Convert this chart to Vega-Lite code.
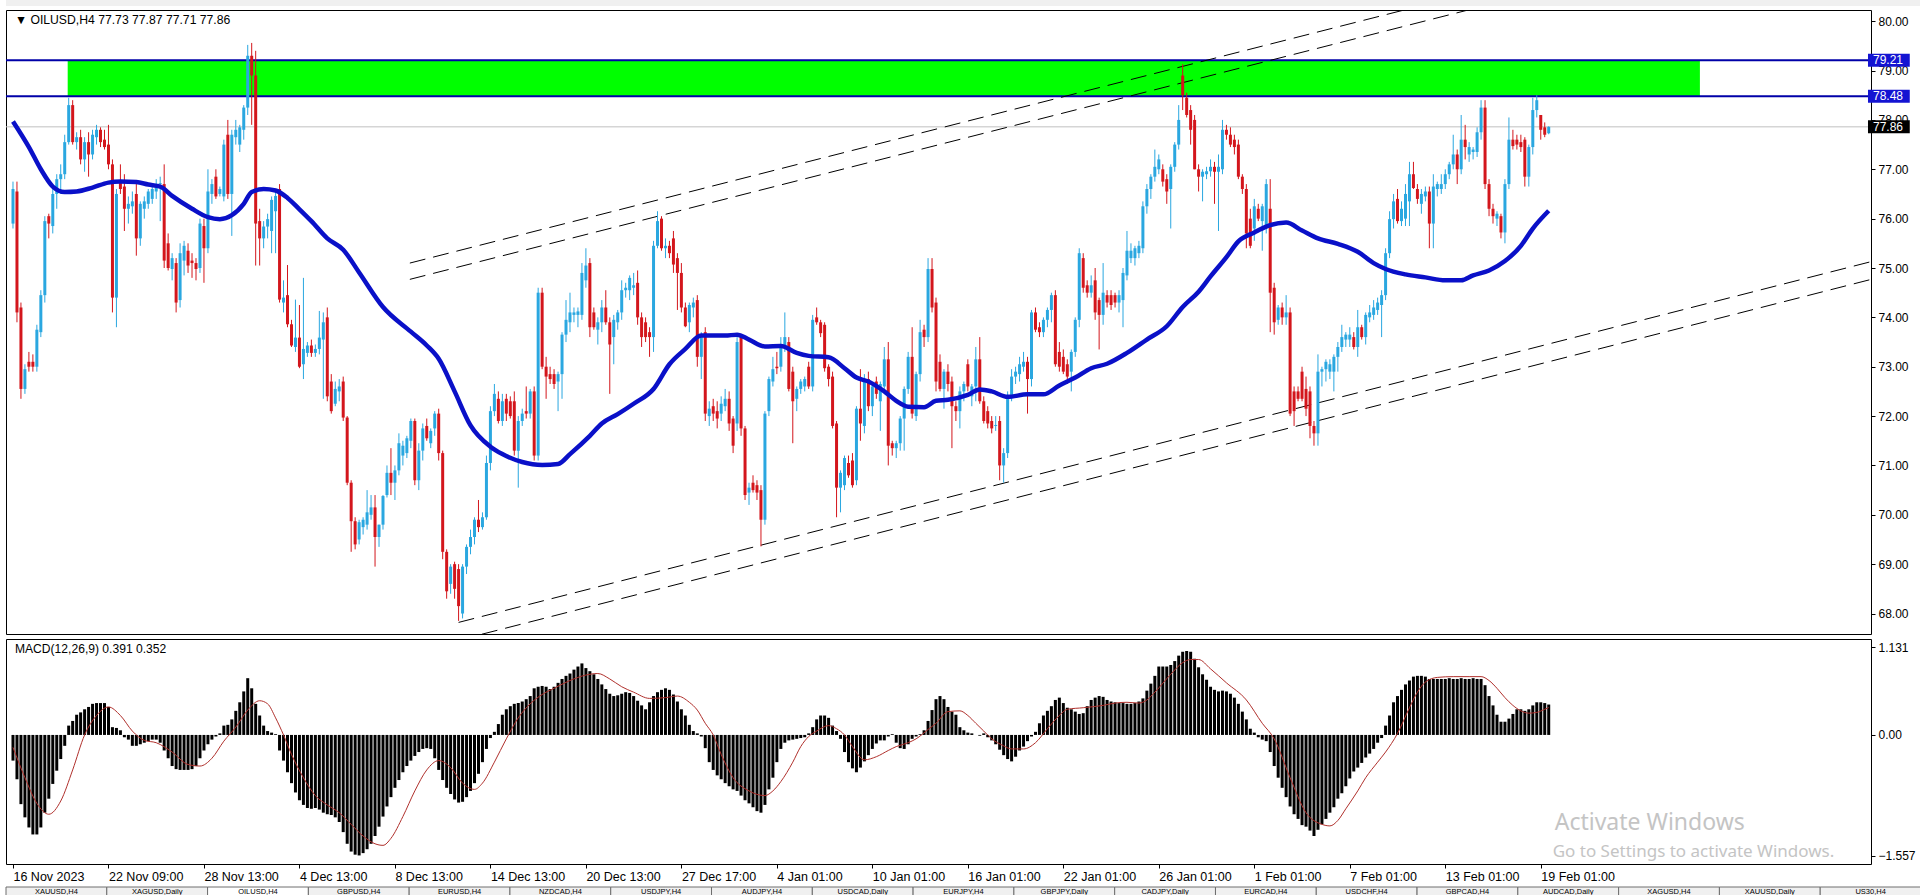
{
"$schema":"https://vega.github.io/schema/vega-lite/v6.json",
"padding":{"left":3,"top":0,"right":0,"bottom":0},
"background":"white",
"spacing":3,
"config":{"view":{"stroke":"#000","strokeWidth":1},"axis":{"labelFont":"Liberation Sans","labelFontSize":12,"labelColor":"#000","tickColor":"#000","domain":false,"grid":false,"title":null,"labelFlush":false,"labelOverlap":false},"text":{"font":"Liberation Sans"}},
"datasets":{
"bars":[
{"i":0,"o":75.9,"h":76.75,"l":75.8,"c":76.6,"m":-0.33},
{"i":1,"o":76.55,"h":76.75,"l":73.9,"c":74.1,"m":-0.57},
{"i":2,"o":74.2,"h":74.3,"l":72.35,"c":72.55,"m":-0.89},
{"i":3,"o":72.55,"h":73.05,"l":72.45,"c":72.95,"m":-1.06},
{"i":4,"o":73.1,"h":73.3,"l":72.9,"c":73.0,"m":-1.19},
{"i":5,"o":73.1,"h":73.25,"l":72.9,"c":73.0,"m":-1.28},
{"i":6,"o":73.0,"h":73.85,"l":72.9,"c":73.75,"m":-1.28},
{"i":7,"o":73.7,"h":74.55,"l":73.6,"c":74.45,"m":-1.19},
{"i":8,"o":74.45,"h":76.05,"l":74.3,"c":75.95,"m":-1.0},
{"i":9,"o":76.05,"h":76.1,"l":75.6,"c":75.9,"m":-0.82},
{"i":10,"o":75.85,"h":76.6,"l":75.7,"c":76.5,"m":-0.63},
{"i":11,"o":76.5,"h":76.9,"l":76.2,"c":76.8,"m":-0.46},
{"i":12,"o":76.8,"h":77.1,"l":76.5,"c":76.9,"m":-0.31},
{"i":13,"o":76.9,"h":77.7,"l":76.8,"c":77.55,"m":-0.14},
{"i":14,"o":77.55,"h":78.45,"l":77.5,"c":78.3,"m":0.12},
{"i":15,"o":78.3,"h":78.4,"l":77.5,"c":77.55,"m":0.18},
{"i":16,"o":77.55,"h":77.75,"l":77.4,"c":77.65,"m":0.26},
{"i":17,"o":77.65,"h":77.8,"l":77.1,"c":77.2,"m":0.29},
{"i":18,"o":77.2,"h":77.65,"l":76.95,"c":77.55,"m":0.33},
{"i":19,"o":77.55,"h":77.75,"l":76.85,"c":77.3,"m":0.36},
{"i":20,"o":77.3,"h":77.8,"l":77.2,"c":77.7,"m":0.4},
{"i":21,"o":77.65,"h":77.9,"l":77.5,"c":77.8,"m":0.41},
{"i":22,"o":77.8,"h":77.85,"l":77.45,"c":77.55,"m":0.41},
{"i":23,"o":77.6,"h":77.8,"l":77.4,"c":77.45,"m":0.41},
{"i":24,"o":77.5,"h":77.9,"l":77.0,"c":77.1,"m":0.36},
{"i":25,"o":77.1,"h":77.2,"l":74.1,"c":74.4,"m":0.1},
{"i":26,"o":74.4,"h":76.6,"l":73.8,"c":76.5,"m":0.09},
{"i":27,"o":76.75,"h":77.1,"l":76.5,"c":76.6,"m":0.06},
{"i":28,"o":76.65,"h":76.9,"l":75.75,"c":76.2,"m":-0.03},
{"i":29,"o":76.2,"h":76.45,"l":75.9,"c":76.3,"m":-0.06},
{"i":30,"o":76.25,"h":76.55,"l":76.1,"c":76.35,"m":-0.14},
{"i":31,"o":76.5,"h":76.75,"l":75.25,"c":75.6,"m":-0.14},
{"i":32,"o":75.6,"h":76.35,"l":75.45,"c":76.3,"m":-0.12},
{"i":33,"o":76.2,"h":76.45,"l":76.0,"c":76.35,"m":-0.1},
{"i":34,"o":76.3,"h":76.6,"l":76.2,"c":76.55,"m":-0.08},
{"i":35,"o":76.4,"h":76.7,"l":76.3,"c":76.6,"m":-0.06},
{"i":36,"o":76.55,"h":76.8,"l":76.4,"c":76.7,"m":-0.06},
{"i":37,"o":76.7,"h":76.85,"l":75.95,"c":76.72,"m":-0.1},
{"i":38,"o":76.7,"h":77.1,"l":75.0,"c":75.15,"m":-0.2},
{"i":39,"o":75.5,"h":75.7,"l":74.95,"c":75.0,"m":-0.3},
{"i":40,"o":74.98,"h":75.3,"l":74.75,"c":75.2,"m":-0.4},
{"i":41,"o":75.1,"h":75.2,"l":74.1,"c":74.3,"m":-0.44},
{"i":42,"o":74.35,"h":75.5,"l":74.2,"c":75.3,"m":-0.45},
{"i":43,"o":75.15,"h":75.55,"l":74.85,"c":75.45,"m":-0.45},
{"i":44,"o":75.35,"h":75.5,"l":74.9,"c":75.05,"m":-0.45},
{"i":45,"o":75.15,"h":75.3,"l":74.8,"c":75.1,"m":-0.44},
{"i":46,"o":75.1,"h":75.2,"l":74.75,"c":74.98,"m":-0.4},
{"i":47,"o":75.0,"h":76.0,"l":74.9,"c":75.9,"m":-0.3},
{"i":48,"o":75.85,"h":76.0,"l":74.7,"c":75.4,"m":-0.2},
{"i":49,"o":75.4,"h":77.0,"l":75.3,"c":76.55,"m":-0.12},
{"i":50,"o":76.5,"h":76.8,"l":76.3,"c":76.7,"m":-0.06},
{"i":51,"o":76.85,"h":77.0,"l":76.4,"c":76.45,"m":-0.02},
{"i":52,"o":76.5,"h":76.65,"l":76.45,"c":76.6,"m":0.02},
{"i":53,"o":76.45,"h":77.6,"l":76.35,"c":77.5,"m":0.12},
{"i":54,"o":77.7,"h":78.0,"l":76.4,"c":76.5,"m":0.13},
{"i":55,"o":76.5,"h":77.8,"l":75.65,"c":77.7,"m":0.2},
{"i":56,"o":77.65,"h":78.0,"l":77.5,"c":77.8,"m":0.31},
{"i":57,"o":77.5,"h":77.9,"l":77.35,"c":77.85,"m":0.42},
{"i":58,"o":77.8,"h":78.3,"l":77.6,"c":78.25,"m":0.56},
{"i":59,"o":78.25,"h":79.52,"l":78.1,"c":79.3,"m":0.73},
{"i":60,"o":79.3,"h":79.56,"l":77.9,"c":78.9,"m":0.6},
{"i":61,"o":78.9,"h":79.4,"l":75.05,"c":75.9,"m":0.4},
{"i":62,"o":75.95,"h":76.2,"l":75.05,"c":75.6,"m":0.25},
{"i":63,"o":75.6,"h":75.95,"l":75.4,"c":75.84,"m":0.12},
{"i":64,"o":75.84,"h":76.1,"l":75.6,"c":75.99,"m":0.05},
{"i":65,"o":75.75,"h":76.45,"l":75.3,"c":76.38,"m":0.03},
{"i":66,"o":76.15,"h":76.55,"l":75.3,"c":76.46,"m":0.01},
{"i":67,"o":76.6,"h":76.7,"l":74.3,"c":74.36,"m":-0.2},
{"i":68,"o":74.3,"h":74.75,"l":74.1,"c":74.4,"m":-0.33},
{"i":69,"o":74.45,"h":75.06,"l":73.8,"c":73.86,"m":-0.48},
{"i":70,"o":73.86,"h":73.95,"l":73.4,"c":73.43,"m":-0.62},
{"i":71,"o":73.4,"h":74.36,"l":73.3,"c":73.59,"m":-0.74},
{"i":72,"o":73.59,"h":74.25,"l":72.97,"c":73.0,"m":-0.84},
{"i":73,"o":73.05,"h":74.8,"l":72.75,"c":73.36,"m":-0.9},
{"i":74,"o":73.28,"h":73.5,"l":73.2,"c":73.43,"m":-0.94},
{"i":75,"o":73.43,"h":73.55,"l":73.2,"c":73.28,"m":-0.95},
{"i":76,"o":73.28,"h":73.45,"l":73.2,"c":73.36,"m":-0.94},
{"i":77,"o":73.36,"h":74.13,"l":73.25,"c":73.59,"m":-0.96},
{"i":78,"o":73.55,"h":74.1,"l":72.35,"c":73.9,"m":-1.0},
{"i":79,"o":74.0,"h":74.2,"l":72.3,"c":72.4,"m":-1.02},
{"i":80,"o":72.7,"h":72.85,"l":72.05,"c":72.1,"m":-1.03},
{"i":81,"o":72.25,"h":72.7,"l":72.2,"c":72.55,"m":-1.06},
{"i":82,"o":72.5,"h":72.75,"l":72.3,"c":72.6,"m":-1.12},
{"i":83,"o":72.7,"h":72.8,"l":71.9,"c":71.97,"m":-1.25},
{"i":84,"o":71.97,"h":72.0,"l":70.6,"c":70.65,"m":-1.4},
{"i":85,"o":70.65,"h":70.7,"l":69.25,"c":69.87,"m":-1.5},
{"i":86,"o":69.87,"h":69.95,"l":69.3,"c":69.4,"m":-1.54},
{"i":87,"o":69.5,"h":69.9,"l":69.4,"c":69.85,"m":-1.55},
{"i":88,"o":69.75,"h":69.95,"l":69.6,"c":69.9,"m":-1.52},
{"i":89,"o":69.8,"h":70.5,"l":69.7,"c":70.05,"m":-1.47},
{"i":90,"o":70.0,"h":70.4,"l":69.9,"c":70.15,"m":-1.4},
{"i":91,"o":70.15,"h":70.4,"l":68.95,"c":69.55,"m":-1.3},
{"i":92,"o":69.55,"h":69.8,"l":69.35,"c":69.8,"m":-1.18},
{"i":93,"o":69.8,"h":70.4,"l":69.7,"c":70.38,"m":-1.05},
{"i":94,"o":70.4,"h":71.0,"l":70.35,"c":70.85,"m":-0.92},
{"i":95,"o":70.85,"h":71.35,"l":70.4,"c":70.65,"m":-0.8},
{"i":96,"o":70.65,"h":71.0,"l":70.3,"c":70.9,"m":-0.68},
{"i":97,"o":70.9,"h":71.65,"l":70.8,"c":71.45,"m":-0.58},
{"i":98,"o":71.2,"h":71.5,"l":71.0,"c":71.4,"m":-0.48},
{"i":99,"o":71.25,"h":71.6,"l":71.15,"c":71.55,"m":-0.4},
{"i":100,"o":71.5,"h":71.95,"l":71.35,"c":71.9,"m":-0.33},
{"i":101,"o":71.9,"h":71.95,"l":70.6,"c":70.7,"m":-0.27},
{"i":102,"o":70.7,"h":71.45,"l":70.5,"c":71.3,"m":-0.22},
{"i":103,"o":71.3,"h":71.85,"l":71.1,"c":71.75,"m":-0.18},
{"i":104,"o":71.8,"h":71.95,"l":71.5,"c":71.55,"m":-0.17},
{"i":105,"o":71.45,"h":71.75,"l":71.35,"c":71.7,"m":-0.18},
{"i":106,"o":71.75,"h":72.1,"l":71.6,"c":72.05,"m":-0.3},
{"i":107,"o":72.05,"h":72.15,"l":71.1,"c":71.25,"m":-0.45},
{"i":108,"o":71.25,"h":71.3,"l":69.1,"c":69.25,"m":-0.58},
{"i":109,"o":69.25,"h":69.3,"l":68.3,"c":68.45,"m":-0.68},
{"i":110,"o":68.6,"h":69.0,"l":68.4,"c":68.95,"m":-0.76},
{"i":111,"o":69.0,"h":69.05,"l":68.3,"c":68.5,"m":-0.83},
{"i":112,"o":68.9,"h":69.0,"l":67.85,"c":68.15,"m":-0.87},
{"i":113,"o":68.0,"h":69.0,"l":67.9,"c":68.95,"m":-0.86},
{"i":114,"o":68.95,"h":69.4,"l":68.8,"c":69.35,"m":-0.8},
{"i":115,"o":69.35,"h":69.7,"l":69.2,"c":69.55,"m":-0.72},
{"i":116,"o":69.55,"h":69.95,"l":69.4,"c":69.9,"m":-0.62},
{"i":117,"o":69.9,"h":70.3,"l":69.65,"c":69.75,"m":-0.5},
{"i":118,"o":69.75,"h":70.05,"l":69.7,"c":69.95,"m":-0.35},
{"i":119,"o":69.95,"h":71.2,"l":69.9,"c":71.05,"m":-0.18},
{"i":120,"o":71.05,"h":72.2,"l":70.9,"c":72.1,"m":-0.04},
{"i":121,"o":72.1,"h":72.65,"l":72.0,"c":72.45,"m":0.04},
{"i":122,"o":72.35,"h":72.5,"l":71.85,"c":71.9,"m":0.14},
{"i":123,"o":71.9,"h":72.45,"l":71.8,"c":72.3,"m":0.26},
{"i":124,"o":72.35,"h":72.45,"l":71.9,"c":72.05,"m":0.33},
{"i":125,"o":72.3,"h":72.4,"l":71.95,"c":72.0,"m":0.37},
{"i":126,"o":72.3,"h":72.5,"l":71.2,"c":71.3,"m":0.4},
{"i":127,"o":71.3,"h":72.0,"l":70.55,"c":71.9,"m":0.41},
{"i":128,"o":71.9,"h":72.15,"l":71.8,"c":72.05,"m":0.43},
{"i":129,"o":72.1,"h":72.6,"l":71.95,"c":72.05,"m":0.46},
{"i":130,"o":72.05,"h":72.55,"l":71.95,"c":72.5,"m":0.5},
{"i":131,"o":72.5,"h":72.6,"l":71.1,"c":71.2,"m":0.6},
{"i":132,"o":71.2,"h":74.6,"l":71.1,"c":74.5,"m":0.62},
{"i":133,"o":74.5,"h":74.6,"l":72.95,"c":73.0,"m":0.63},
{"i":134,"o":73.0,"h":73.2,"l":72.35,"c":72.8,"m":0.62},
{"i":135,"o":72.85,"h":73.0,"l":72.65,"c":72.75,"m":0.59},
{"i":136,"o":72.85,"h":72.95,"l":72.55,"c":72.65,"m":0.62},
{"i":137,"o":72.7,"h":72.9,"l":72.1,"c":72.85,"m":0.67},
{"i":138,"o":72.85,"h":73.7,"l":72.35,"c":73.65,"m":0.72},
{"i":139,"o":73.65,"h":74.35,"l":73.5,"c":73.95,"m":0.76},
{"i":140,"o":73.9,"h":74.5,"l":73.7,"c":74.1,"m":0.79},
{"i":141,"o":74.05,"h":74.2,"l":73.9,"c":74.1,"m":0.84},
{"i":142,"o":74.05,"h":74.2,"l":73.8,"c":74.12,"m":0.88},
{"i":143,"o":74.05,"h":75.1,"l":73.95,"c":74.9,"m":0.92},
{"i":144,"o":74.75,"h":75.4,"l":74.6,"c":75.05,"m":0.86},
{"i":145,"o":75.1,"h":75.2,"l":73.6,"c":73.8,"m":0.82},
{"i":146,"o":74.1,"h":74.2,"l":73.75,"c":73.8,"m":0.78},
{"i":147,"o":73.75,"h":74.0,"l":73.45,"c":73.9,"m":0.72},
{"i":148,"o":73.9,"h":74.35,"l":73.7,"c":74.2,"m":0.65},
{"i":149,"o":74.2,"h":74.55,"l":73.85,"c":73.9,"m":0.59},
{"i":150,"o":73.9,"h":74.0,"l":72.45,"c":73.45,"m":0.53},
{"i":151,"o":73.6,"h":74.05,"l":73.05,"c":73.95,"m":0.5},
{"i":152,"o":73.9,"h":74.15,"l":73.75,"c":74.1,"m":0.51},
{"i":153,"o":74.1,"h":74.75,"l":73.95,"c":74.55,"m":0.53},
{"i":154,"o":74.55,"h":74.7,"l":74.4,"c":74.6,"m":0.55},
{"i":155,"o":74.55,"h":74.85,"l":74.35,"c":74.8,"m":0.54},
{"i":156,"o":74.6,"h":74.9,"l":74.45,"c":74.65,"m":0.5},
{"i":157,"o":74.7,"h":74.95,"l":73.85,"c":74.0,"m":0.44},
{"i":158,"o":74.0,"h":74.1,"l":73.4,"c":73.6,"m":0.38},
{"i":159,"o":73.9,"h":74.0,"l":73.5,"c":73.6,"m":0.33},
{"i":160,"o":73.7,"h":73.8,"l":73.2,"c":73.6,"m":0.42},
{"i":161,"o":73.6,"h":75.55,"l":73.3,"c":75.45,"m":0.5},
{"i":162,"o":75.45,"h":76.15,"l":75.4,"c":75.95,"m":0.55},
{"i":163,"o":76.0,"h":76.05,"l":75.35,"c":75.4,"m":0.58},
{"i":164,"o":75.4,"h":75.6,"l":75.2,"c":75.45,"m":0.6},
{"i":165,"o":75.45,"h":75.55,"l":75.2,"c":75.3,"m":0.58},
{"i":166,"o":75.6,"h":75.75,"l":74.9,"c":75.07,"m":0.52},
{"i":167,"o":75.2,"h":75.3,"l":74.15,"c":74.9,"m":0.43},
{"i":168,"o":74.9,"h":75.1,"l":74.1,"c":74.2,"m":0.33},
{"i":169,"o":74.2,"h":74.3,"l":73.8,"c":73.82,"m":0.25},
{"i":170,"o":73.9,"h":74.3,"l":73.7,"c":74.25,"m":0.13},
{"i":171,"o":74.2,"h":74.4,"l":74.0,"c":74.3,"m":0.05},
{"i":172,"o":74.35,"h":74.45,"l":73.0,"c":73.2,"m":0.02},
{"i":173,"o":73.2,"h":73.7,"l":72.75,"c":73.65,"m":-0.02},
{"i":174,"o":73.7,"h":73.8,"l":71.9,"c":72.05,"m":-0.17},
{"i":175,"o":72.0,"h":72.3,"l":71.8,"c":72.15,"m":-0.35},
{"i":176,"o":72.2,"h":72.35,"l":71.9,"c":72.05,"m":-0.45},
{"i":177,"o":72.1,"h":72.3,"l":71.75,"c":71.95,"m":-0.52},
{"i":178,"o":72.05,"h":72.4,"l":71.9,"c":72.25,"m":-0.57},
{"i":179,"o":72.2,"h":72.55,"l":72.1,"c":72.35,"m":-0.62},
{"i":180,"o":72.35,"h":72.5,"l":71.7,"c":71.85,"m":-0.66},
{"i":181,"o":71.95,"h":72.0,"l":71.25,"c":71.4,"m":-0.7},
{"i":182,"o":71.85,"h":73.6,"l":71.7,"c":73.5,"m":-0.72},
{"i":183,"o":73.6,"h":73.65,"l":71.6,"c":71.75,"m":-0.78},
{"i":184,"o":71.75,"h":71.8,"l":70.3,"c":70.4,"m":-0.84},
{"i":185,"o":70.45,"h":70.65,"l":70.2,"c":70.55,"m":-0.88},
{"i":186,"o":70.65,"h":70.8,"l":70.45,"c":70.5,"m":-0.93},
{"i":187,"o":70.6,"h":70.7,"l":70.3,"c":70.45,"m":-0.98},
{"i":188,"o":70.5,"h":70.6,"l":69.36,"c":69.9,"m":-1.0},
{"i":189,"o":69.9,"h":72.1,"l":69.8,"c":72.05,"m":-0.9},
{"i":190,"o":72.1,"h":72.8,"l":72.0,"c":72.75,"m":-0.7},
{"i":191,"o":72.7,"h":73.2,"l":72.6,"c":72.95,"m":-0.55},
{"i":192,"o":73.0,"h":73.3,"l":72.85,"c":72.97,"m":-0.35},
{"i":193,"o":73.0,"h":73.6,"l":72.9,"c":73.4,"m":-0.18},
{"i":194,"o":73.4,"h":74.1,"l":73.3,"c":73.6,"m":-0.1},
{"i":195,"o":73.5,"h":73.6,"l":72.5,"c":72.55,"m":-0.07},
{"i":196,"o":72.9,"h":73.0,"l":71.45,"c":72.3,"m":-0.06},
{"i":197,"o":72.35,"h":72.6,"l":72.1,"c":72.55,"m":-0.05},
{"i":198,"o":72.55,"h":72.75,"l":72.45,"c":72.7,"m":-0.04},
{"i":199,"o":72.6,"h":72.8,"l":72.5,"c":72.75,"m":-0.03},
{"i":200,"o":73.0,"h":73.1,"l":72.55,"c":72.6,"m":0.02},
{"i":201,"o":72.6,"h":74.05,"l":72.5,"c":73.95,"m":0.1},
{"i":202,"o":74.0,"h":74.2,"l":73.85,"c":73.9,"m":0.2},
{"i":203,"o":73.9,"h":73.95,"l":73.6,"c":73.68,"m":0.25},
{"i":204,"o":73.85,"h":73.9,"l":72.9,"c":72.97,"m":0.25},
{"i":205,"o":73.0,"h":73.05,"l":72.6,"c":72.75,"m":0.22},
{"i":206,"o":72.8,"h":72.9,"l":71.75,"c":71.8,"m":0.12},
{"i":207,"o":71.85,"h":71.9,"l":69.95,"c":70.55,"m":0.05},
{"i":208,"o":70.55,"h":70.9,"l":70.05,"c":70.85,"m":-0.05},
{"i":209,"o":70.6,"h":71.2,"l":70.5,"c":71.15,"m":-0.22},
{"i":210,"o":71.05,"h":71.2,"l":70.75,"c":70.8,"m":-0.35},
{"i":211,"o":71.1,"h":71.25,"l":70.55,"c":70.6,"m":-0.43},
{"i":212,"o":70.7,"h":72.2,"l":70.6,"c":72.15,"m":-0.48},
{"i":213,"o":72.15,"h":72.95,"l":71.5,"c":71.85,"m":-0.42},
{"i":214,"o":71.8,"h":72.85,"l":71.65,"c":72.75,"m":-0.34},
{"i":215,"o":72.75,"h":72.9,"l":72.1,"c":72.2,"m":-0.26},
{"i":216,"o":72.2,"h":72.65,"l":72.0,"c":72.6,"m":-0.18},
{"i":217,"o":72.7,"h":72.8,"l":72.35,"c":72.45,"m":-0.11},
{"i":218,"o":72.3,"h":72.7,"l":71.7,"c":72.65,"m":-0.07},
{"i":219,"o":72.6,"h":73.4,"l":72.5,"c":73.15,"m":-0.07},
{"i":220,"o":73.15,"h":73.5,"l":71.0,"c":71.4,"m":-0.02},
{"i":221,"o":71.45,"h":71.5,"l":71.2,"c":71.35,"m":0.01},
{"i":222,"o":71.35,"h":71.5,"l":71.15,"c":71.45,"m":-0.1},
{"i":223,"o":71.45,"h":72.0,"l":71.3,"c":71.95,"m":-0.17},
{"i":224,"o":71.95,"h":72.6,"l":71.3,"c":72.55,"m":-0.18},
{"i":225,"o":72.55,"h":73.3,"l":72.45,"c":73.2,"m":-0.12},
{"i":226,"o":73.2,"h":73.8,"l":71.95,"c":72.05,"m":-0.05},
{"i":227,"o":72.0,"h":72.9,"l":71.9,"c":72.85,"m":-0.02},
{"i":228,"o":72.85,"h":73.95,"l":72.7,"c":73.7,"m":0.01},
{"i":229,"o":73.75,"h":73.85,"l":73.4,"c":73.6,"m":0.06},
{"i":230,"o":73.6,"h":75.2,"l":73.5,"c":74.98,"m":0.18},
{"i":231,"o":74.98,"h":75.2,"l":74.1,"c":74.2,"m":0.32},
{"i":232,"o":74.3,"h":74.4,"l":72.5,"c":72.7,"m":0.46},
{"i":233,"o":73.1,"h":73.25,"l":72.5,"c":72.55,"m":0.5},
{"i":234,"o":72.55,"h":72.95,"l":72.15,"c":72.9,"m":0.46},
{"i":235,"o":72.9,"h":73.05,"l":72.5,"c":72.65,"m":0.36},
{"i":236,"o":72.7,"h":72.8,"l":71.35,"c":72.2,"m":0.3},
{"i":237,"o":72.2,"h":72.3,"l":71.9,"c":72.1,"m":0.26},
{"i":238,"o":72.1,"h":72.6,"l":71.75,"c":72.5,"m":0.1},
{"i":239,"o":72.5,"h":72.7,"l":72.3,"c":72.65,"m":0.06},
{"i":240,"o":73.05,"h":73.15,"l":72.5,"c":72.6,"m":0.03},
{"i":241,"o":72.4,"h":72.65,"l":72.2,"c":72.6,"m":0.02},
{"i":242,"o":72.6,"h":73.4,"l":72.3,"c":73.15,"m":0.0},
{"i":243,"o":73.15,"h":73.6,"l":72.25,"c":72.3,"m":-0.01},
{"i":244,"o":72.3,"h":72.4,"l":71.85,"c":71.9,"m":0.02},
{"i":245,"o":72.1,"h":72.2,"l":71.75,"c":71.85,"m":-0.03},
{"i":246,"o":71.9,"h":72.0,"l":71.65,"c":71.75,"m":-0.07},
{"i":247,"o":71.8,"h":72.0,"l":71.7,"c":71.82,"m":-0.12},
{"i":248,"o":71.9,"h":72.0,"l":70.7,"c":71.0,"m":-0.19},
{"i":249,"o":71.0,"h":71.35,"l":70.65,"c":71.25,"m":-0.26},
{"i":250,"o":71.25,"h":72.5,"l":71.15,"c":72.4,"m":-0.31},
{"i":251,"o":72.4,"h":72.95,"l":72.3,"c":72.8,"m":-0.34},
{"i":252,"o":72.8,"h":73.0,"l":72.65,"c":72.9,"m":-0.28},
{"i":253,"o":72.85,"h":73.2,"l":72.7,"c":73.05,"m":-0.2},
{"i":254,"o":73.0,"h":73.3,"l":72.9,"c":73.1,"m":-0.15},
{"i":255,"o":73.1,"h":73.2,"l":72.05,"c":72.75,"m":-0.08},
{"i":256,"o":72.75,"h":74.15,"l":72.6,"c":74.1,"m":-0.02},
{"i":257,"o":74.1,"h":74.2,"l":73.7,"c":73.75,"m":0.04},
{"i":258,"o":73.8,"h":73.9,"l":73.6,"c":73.7,"m":0.15},
{"i":259,"o":73.7,"h":74.0,"l":73.6,"c":73.95,"m":0.25},
{"i":260,"o":73.95,"h":74.2,"l":73.8,"c":74.15,"m":0.31},
{"i":261,"o":74.15,"h":74.5,"l":73.9,"c":74.45,"m":0.37},
{"i":262,"o":74.45,"h":74.55,"l":73.0,"c":73.05,"m":0.45},
{"i":263,"o":73.3,"h":73.5,"l":72.9,"c":73.0,"m":0.48},
{"i":264,"o":73.2,"h":73.35,"l":72.85,"c":72.9,"m":0.41},
{"i":265,"o":73.05,"h":73.15,"l":72.65,"c":72.8,"m":0.35},
{"i":266,"o":72.9,"h":73.35,"l":72.5,"c":73.3,"m":0.33},
{"i":267,"o":73.3,"h":74.0,"l":73.2,"c":73.95,"m":0.3},
{"i":268,"o":73.95,"h":75.4,"l":73.8,"c":75.3,"m":0.27},
{"i":269,"o":75.2,"h":75.3,"l":74.5,"c":74.6,"m":0.28},
{"i":270,"o":74.65,"h":74.75,"l":74.4,"c":74.5,"m":0.37},
{"i":271,"o":74.5,"h":74.85,"l":74.4,"c":74.65,"m":0.45},
{"i":272,"o":74.75,"h":75.0,"l":73.95,"c":74.1,"m":0.48},
{"i":273,"o":74.35,"h":74.4,"l":73.35,"c":74.05,"m":0.5},
{"i":274,"o":74.05,"h":75.1,"l":73.85,"c":74.5,"m":0.49},
{"i":275,"o":74.45,"h":74.55,"l":74.2,"c":74.3,"m":0.45},
{"i":276,"o":74.45,"h":74.55,"l":74.15,"c":74.25,"m":0.43},
{"i":277,"o":74.45,"h":74.5,"l":74.2,"c":74.3,"m":0.42},
{"i":278,"o":74.3,"h":74.55,"l":74.1,"c":74.45,"m":0.41},
{"i":279,"o":74.35,"h":75.0,"l":73.8,"c":74.9,"m":0.41},
{"i":280,"o":74.85,"h":75.75,"l":74.75,"c":75.35,"m":0.4},
{"i":281,"o":75.2,"h":75.5,"l":75.1,"c":75.35,"m":0.4},
{"i":282,"o":75.2,"h":75.45,"l":75.05,"c":75.4,"m":0.41},
{"i":283,"o":75.3,"h":75.55,"l":75.2,"c":75.45,"m":0.43},
{"i":284,"o":75.4,"h":76.35,"l":75.3,"c":76.25,"m":0.47},
{"i":285,"o":76.25,"h":76.7,"l":76.1,"c":76.6,"m":0.57},
{"i":286,"o":76.6,"h":76.9,"l":76.4,"c":76.85,"m":0.66},
{"i":287,"o":76.85,"h":77.4,"l":76.75,"c":77.05,"m":0.76},
{"i":288,"o":77.0,"h":77.3,"l":76.9,"c":77.2,"m":0.88},
{"i":289,"o":77.0,"h":77.1,"l":76.65,"c":76.75,"m":0.88},
{"i":290,"o":76.8,"h":76.9,"l":76.3,"c":76.55,"m":0.88},
{"i":291,"o":76.6,"h":77.1,"l":75.8,"c":77.05,"m":0.9},
{"i":292,"o":77.05,"h":77.55,"l":76.95,"c":77.5,"m":0.95},
{"i":293,"o":77.5,"h":78.3,"l":77.4,"c":78.0,"m":1.02},
{"i":294,"o":78.9,"h":79.13,"l":78.2,"c":78.5,"m":1.07},
{"i":295,"o":78.45,"h":78.55,"l":78.05,"c":78.1,"m":1.08},
{"i":296,"o":78.2,"h":78.3,"l":77.5,"c":77.8,"m":1.07},
{"i":297,"o":78.0,"h":78.1,"l":77.0,"c":77.0,"m":0.98},
{"i":298,"o":77.0,"h":77.1,"l":76.55,"c":76.85,"m":0.87},
{"i":299,"o":76.85,"h":77.0,"l":76.35,"c":76.95,"m":0.78},
{"i":300,"o":76.9,"h":77.05,"l":76.8,"c":76.96,"m":0.71},
{"i":301,"o":76.96,"h":77.2,"l":76.85,"c":77.05,"m":0.62},
{"i":302,"o":77.05,"h":77.15,"l":76.3,"c":76.95,"m":0.58},
{"i":303,"o":76.95,"h":77.3,"l":75.75,"c":77.05,"m":0.56},
{"i":304,"o":77.0,"h":78.0,"l":76.9,"c":77.8,"m":0.57},
{"i":305,"o":77.8,"h":77.9,"l":77.6,"c":77.7,"m":0.56},
{"i":306,"o":77.7,"h":77.85,"l":77.45,"c":77.5,"m":0.53},
{"i":307,"o":77.6,"h":77.7,"l":77.3,"c":77.45,"m":0.48},
{"i":308,"o":77.5,"h":77.6,"l":76.8,"c":76.85,"m":0.4},
{"i":309,"o":76.85,"h":76.9,"l":76.5,"c":76.6,"m":0.3},
{"i":310,"o":76.6,"h":76.7,"l":75.4,"c":75.7,"m":0.2},
{"i":311,"o":76.0,"h":76.2,"l":75.4,"c":75.45,"m":0.08},
{"i":312,"o":75.8,"h":76.4,"l":75.55,"c":76.25,"m":0.03},
{"i":313,"o":76.2,"h":76.3,"l":75.95,"c":76.0,"m":-0.03},
{"i":314,"o":75.95,"h":76.3,"l":75.35,"c":76.25,"m":-0.06},
{"i":315,"o":75.85,"h":76.8,"l":75.7,"c":76.7,"m":-0.08},
{"i":316,"o":76.2,"h":76.8,"l":73.7,"c":74.5,"m":-0.22},
{"i":317,"o":74.6,"h":74.7,"l":73.65,"c":73.9,"m":-0.4},
{"i":318,"o":73.95,"h":74.25,"l":73.85,"c":74.2,"m":-0.55},
{"i":319,"o":74.2,"h":74.3,"l":73.85,"c":74.0,"m":-0.68},
{"i":320,"o":74.0,"h":74.45,"l":73.85,"c":74.1,"m":-0.8},
{"i":321,"o":74.1,"h":74.2,"l":72.0,"c":72.05,"m":-0.92},
{"i":322,"o":72.5,"h":72.6,"l":71.8,"c":72.1,"m":-1.02},
{"i":323,"o":72.5,"h":72.6,"l":72.3,"c":72.35,"m":-1.08},
{"i":324,"o":72.9,"h":73.0,"l":72.3,"c":72.35,"m":-1.16},
{"i":325,"o":72.55,"h":72.8,"l":72.0,"c":72.15,"m":-1.18},
{"i":326,"o":72.5,"h":72.6,"l":71.55,"c":71.8,"m":-1.23},
{"i":327,"o":71.8,"h":71.9,"l":71.4,"c":71.65,"m":-1.3},
{"i":328,"o":71.65,"h":73.25,"l":71.4,"c":72.9,"m":-1.22},
{"i":329,"o":72.9,"h":73.0,"l":72.6,"c":72.95,"m":-1.15},
{"i":330,"o":72.95,"h":73.15,"l":72.7,"c":73.1,"m":-1.08},
{"i":331,"o":72.9,"h":73.15,"l":72.75,"c":73.05,"m":-1.0},
{"i":332,"o":72.9,"h":73.25,"l":72.5,"c":73.2,"m":-0.93},
{"i":333,"o":73.2,"h":73.5,"l":72.9,"c":73.4,"m":-0.82},
{"i":334,"o":73.4,"h":73.85,"l":73.3,"c":73.6,"m":-0.75},
{"i":335,"o":73.55,"h":73.7,"l":73.4,"c":73.65,"m":-0.66},
{"i":336,"o":73.55,"h":73.8,"l":73.4,"c":73.65,"m":-0.56},
{"i":337,"o":73.6,"h":73.7,"l":73.35,"c":73.4,"m":-0.47},
{"i":338,"o":73.4,"h":74.15,"l":73.2,"c":73.8,"m":-0.42},
{"i":339,"o":73.8,"h":73.85,"l":73.55,"c":73.6,"m":-0.36},
{"i":340,"o":73.6,"h":74.1,"l":73.45,"c":74.05,"m":-0.29},
{"i":341,"o":74.0,"h":74.25,"l":73.9,"c":74.1,"m":-0.24},
{"i":342,"o":74.05,"h":74.35,"l":73.95,"c":74.2,"m":-0.18},
{"i":343,"o":74.15,"h":74.4,"l":74.05,"c":74.3,"m":-0.1},
{"i":344,"o":74.25,"h":74.55,"l":73.6,"c":74.45,"m":-0.04},
{"i":345,"o":74.45,"h":75.4,"l":74.35,"c":75.3,"m":0.12},
{"i":346,"o":75.3,"h":76.15,"l":75.2,"c":75.99,"m":0.25},
{"i":347,"o":75.99,"h":76.5,"l":75.8,"c":76.35,"m":0.42},
{"i":348,"o":76.4,"h":76.6,"l":75.9,"c":75.95,"m":0.5},
{"i":349,"o":75.95,"h":76.35,"l":75.85,"c":76.2,"m":0.58},
{"i":350,"o":76.0,"h":76.7,"l":75.85,"c":76.5,"m":0.65},
{"i":351,"o":76.35,"h":77.15,"l":75.85,"c":76.9,"m":0.7},
{"i":352,"o":76.9,"h":77.15,"l":76.6,"c":76.62,"m":0.75},
{"i":353,"o":76.6,"h":76.7,"l":76.3,"c":76.4,"m":0.76},
{"i":354,"o":76.3,"h":76.6,"l":76.1,"c":76.5,"m":0.76},
{"i":355,"o":76.45,"h":76.65,"l":76.35,"c":76.55,"m":0.75},
{"i":356,"o":76.55,"h":76.65,"l":75.4,"c":75.9,"m":0.72},
{"i":357,"o":75.9,"h":76.9,"l":75.4,"c":76.65,"m":0.72},
{"i":358,"o":76.6,"h":76.75,"l":76.45,"c":76.7,"m":0.72},
{"i":359,"o":76.6,"h":76.9,"l":76.5,"c":76.7,"m":0.72},
{"i":360,"o":76.7,"h":77.0,"l":76.6,"c":76.9,"m":0.72},
{"i":361,"o":76.9,"h":77.15,"l":76.8,"c":77.1,"m":0.73},
{"i":362,"o":77.1,"h":77.7,"l":77.0,"c":77.3,"m":0.72},
{"i":363,"o":77.3,"h":77.4,"l":76.7,"c":77.0,"m":0.72},
{"i":364,"o":77.0,"h":78.1,"l":76.9,"c":77.6,"m":0.73},
{"i":365,"o":77.6,"h":77.9,"l":77.2,"c":77.45,"m":0.72},
{"i":366,"o":77.3,"h":77.55,"l":77.15,"c":77.45,"m":0.72},
{"i":367,"o":77.35,"h":77.45,"l":77.2,"c":77.4,"m":0.73},
{"i":368,"o":77.35,"h":77.85,"l":77.25,"c":77.75,"m":0.72},
{"i":369,"o":77.75,"h":78.4,"l":77.6,"c":78.25,"m":0.72},
{"i":370,"o":78.25,"h":78.4,"l":76.6,"c":76.7,"m":0.64},
{"i":371,"o":76.7,"h":76.8,"l":76.05,"c":76.2,"m":0.5},
{"i":372,"o":76.2,"h":76.3,"l":75.9,"c":76.05,"m":0.38},
{"i":373,"o":76.0,"h":76.15,"l":75.85,"c":76.1,"m":0.26},
{"i":374,"o":76.05,"h":76.1,"l":75.6,"c":75.72,"m":0.17},
{"i":375,"o":75.72,"h":76.8,"l":75.5,"c":76.7,"m":0.17},
{"i":376,"o":76.7,"h":78.05,"l":76.6,"c":77.6,"m":0.21},
{"i":377,"o":77.6,"h":77.8,"l":77.4,"c":77.47,"m":0.27},
{"i":378,"o":77.6,"h":77.7,"l":77.4,"c":77.5,"m":0.33},
{"i":379,"o":77.55,"h":77.7,"l":77.35,"c":77.45,"m":0.33},
{"i":380,"o":77.6,"h":77.65,"l":76.65,"c":76.85,"m":0.31},
{"i":381,"o":76.85,"h":77.5,"l":76.65,"c":77.45,"m":0.33},
{"i":382,"o":77.45,"h":78.45,"l":77.3,"c":78.2,"m":0.38},
{"i":383,"o":78.2,"h":78.5,"l":78.05,"c":78.4,"m":0.42},
{"i":384,"o":78.1,"h":78.1,"l":77.6,"c":77.8,"m":0.42},
{"i":385,"o":77.85,"h":77.95,"l":77.65,"c":77.7,"m":0.41},
{"i":386,"o":77.73,"h":77.87,"l":77.71,"c":77.86,"m":0.391}
],
"ma":[
{"i":0,"v":77.97},{"i":4,"v":77.45},{"i":7,"v":77.0},{"i":10,"v":76.65},{"i":13,"v":76.54},{"i":16,"v":76.55},{"i":20,"v":76.63},{"i":24,"v":76.73},{"i":27,"v":76.75},{"i":31,"v":76.74},{"i":34,"v":76.69},{"i":37,"v":76.65},{"i":40,"v":76.46},{"i":45,"v":76.2},{"i":49,"v":76.03},{"i":52,"v":75.99},{"i":55,"v":76.07},{"i":58,"v":76.3},{"i":60,"v":76.54},{"i":63,"v":76.6},{"i":66,"v":76.57},{"i":69,"v":76.42},{"i":72,"v":76.19},{"i":75,"v":75.95},{"i":79,"v":75.6},{"i":83,"v":75.37},{"i":87,"v":74.91},{"i":93,"v":74.21},{"i":100,"v":73.71},{"i":104,"v":73.43},{"i":107,"v":73.16},{"i":111,"v":72.5},{"i":115,"v":71.81},{"i":120,"v":71.38},{"i":123,"v":71.23},{"i":128,"v":71.07},{"i":133,"v":71.01},{"i":137,"v":71.03},{"i":140,"v":71.23},{"i":145,"v":71.6},{"i":148,"v":71.85},{"i":152,"v":72.04},{"i":156,"v":72.25},{"i":161,"v":72.55},{"i":165,"v":73.05},{"i":169,"v":73.36},{"i":173,"v":73.63},{"i":179,"v":73.63},{"i":182,"v":73.65},{"i":185,"v":73.55},{"i":189,"v":73.41},{"i":193,"v":73.42},{"i":197,"v":73.28},{"i":200,"v":73.22},{"i":205,"v":73.19},{"i":209,"v":72.97},{"i":212,"v":72.78},{"i":215,"v":72.7},{"i":219,"v":72.5},{"i":222,"v":72.31},{"i":225,"v":72.19},{"i":229,"v":72.18},{"i":232,"v":72.31},{"i":235,"v":72.33},{"i":240,"v":72.43},{"i":243,"v":72.54},{"i":246,"v":72.5},{"i":250,"v":72.39},{"i":255,"v":72.44},{"i":259,"v":72.44},{"i":263,"v":72.62},{"i":267,"v":72.78},{"i":271,"v":72.97},{"i":275,"v":73.06},{"i":280,"v":73.28},{"i":285,"v":73.55},{"i":290,"v":73.82},{"i":294,"v":74.21},{"i":298,"v":74.52},{"i":301,"v":74.83},{"i":305,"v":75.22},{"i":308,"v":75.54},{"i":312,"v":75.72},{"i":315,"v":75.84},{"i":320,"v":75.92},{"i":324,"v":75.76},{"i":328,"v":75.6},{"i":333,"v":75.49},{"i":338,"v":75.33},{"i":342,"v":75.1},{"i":345,"v":74.98},{"i":350,"v":74.87},{"i":355,"v":74.81},{"i":360,"v":74.75},{"i":364,"v":74.75},{"i":367,"v":74.85},{"i":371,"v":74.95},{"i":375,"v":75.14},{"i":379,"v":75.45},{"i":382,"v":75.8},{"i":386,"v":76.16}
],
"sig":[
{"i":0,"v":-0.16},{"i":3,"v":-0.55},{"i":6,"v":-0.88},{"i":9,"v":-1.02},{"i":12,"v":-0.85},{"i":15,"v":-0.45},{"i":18,"v":0.0},{"i":21,"v":0.25},{"i":24,"v":0.36},{"i":27,"v":0.25},{"i":30,"v":0.05},{"i":33,"v":-0.07},{"i":36,"v":-0.1},{"i":40,"v":-0.22},{"i":44,"v":-0.38},{"i":47,"v":-0.4},{"i":50,"v":-0.3},{"i":53,"v":-0.08},{"i":56,"v":0.1},{"i":59,"v":0.32},{"i":62,"v":0.44},{"i":64,"v":0.4},{"i":66,"v":0.22},{"i":68,"v":0.0},{"i":70,"v":-0.25},{"i":73,"v":-0.55},{"i":76,"v":-0.78},{"i":79,"v":-0.9},{"i":82,"v":-1.0},{"i":85,"v":-1.15},{"i":88,"v":-1.3},{"i":91,"v":-1.4},{"i":93,"v":-1.42},{"i":95,"v":-1.33},{"i":98,"v":-1.05},{"i":101,"v":-0.72},{"i":104,"v":-0.45},{"i":107,"v":-0.33},{"i":110,"v":-0.42},{"i":113,"v":-0.62},{"i":116,"v":-0.7},{"i":118,"v":-0.62},{"i":121,"v":-0.35},{"i":124,"v":-0.05},{"i":127,"v":0.22},{"i":130,"v":0.4},{"i":133,"v":0.52},{"i":136,"v":0.6},{"i":140,"v":0.7},{"i":144,"v":0.77},{"i":147,"v":0.79},{"i":150,"v":0.72},{"i":153,"v":0.62},{"i":156,"v":0.55},{"i":160,"v":0.47},{"i":164,"v":0.48},{"i":167,"v":0.5},{"i":170,"v":0.42},{"i":172,"v":0.32},{"i":174,"v":0.15},{"i":176,"v":0.0},{"i":178,"v":-0.25},{"i":181,"v":-0.55},{"i":185,"v":-0.72},{"i":189,"v":-0.78},{"i":191,"v":-0.72},{"i":193,"v":-0.6},{"i":196,"v":-0.35},{"i":198,"v":-0.15},{"i":200,"v":-0.02},{"i":202,"v":0.05},{"i":205,"v":0.12},{"i":207,"v":0.08},{"i":209,"v":0.0},{"i":211,"v":-0.15},{"i":214,"v":-0.32},{"i":217,"v":-0.28},{"i":220,"v":-0.2},{"i":222,"v":-0.15},{"i":225,"v":-0.1},{"i":227,"v":-0.05},{"i":230,"v":0.07},{"i":232,"v":0.15},{"i":235,"v":0.3},{"i":238,"v":0.31},{"i":240,"v":0.25},{"i":242,"v":0.15},{"i":244,"v":0.05},{"i":246,"v":-0.05},{"i":249,"v":-0.14},{"i":251,"v":-0.18},{"i":254,"v":-0.18},{"i":257,"v":-0.1},{"i":260,"v":0.08},{"i":263,"v":0.25},{"i":265,"v":0.33},{"i":269,"v":0.35},{"i":274,"v":0.38},{"i":277,"v":0.41},{"i":280,"v":0.42},{"i":283,"v":0.41},{"i":285,"v":0.45},{"i":287,"v":0.55},{"i":291,"v":0.78},{"i":294,"v":0.93},{"i":296,"v":0.97},{"i":298,"v":0.97},{"i":301,"v":0.85},{"i":305,"v":0.67},{"i":310,"v":0.45},{"i":314,"v":0.15},{"i":317,"v":-0.05},{"i":321,"v":-0.55},{"i":325,"v":-1.0},{"i":329,"v":-1.15},{"i":331,"v":-1.17},{"i":333,"v":-1.1},{"i":335,"v":-0.95},{"i":338,"v":-0.72},{"i":340,"v":-0.55},{"i":343,"v":-0.35},{"i":345,"v":-0.22},{"i":348,"v":0.02},{"i":351,"v":0.35},{"i":353,"v":0.55},{"i":355,"v":0.68},{"i":358,"v":0.74},{"i":362,"v":0.75},{"i":366,"v":0.75},{"i":369,"v":0.75},{"i":371,"v":0.7},{"i":373,"v":0.6},{"i":375,"v":0.48},{"i":377,"v":0.38},{"i":379,"v":0.31},{"i":381,"v":0.28},{"i":383,"v":0.29},{"i":385,"v":0.33},{"i":386,"v":0.352}
],
"chan":[
{"a":99.75,"pa":75.1,"b":420,"pb":81.67},
{"a":99.75,"pa":74.77,"b":420,"pb":81.34},
{"a":112,"pa":67.82,"b":470,"pb":75.19},
{"a":112,"pa":67.46,"b":470,"pb":74.83}
],
"tags":[
{"p":79.21,"t":"79.21","k":"level"},
{"p":78.48,"t":"78.48","k":"level"},
{"p":77.86,"t":"77.86","k":"bid"}
],
"tabs":[
{"tab":"XAUUSD,H4"},{"tab":"XAGUSD,Daily"},{"tab":"OILUSD,H4"},{"tab":"GBPUSD,H4"},{"tab":"EURUSD,H4"},{"tab":"NZDCAD,H4"},{"tab":"USDJPY,H4"},{"tab":"AUDJPY,H4"},{"tab":"USDCAD,Daily"},{"tab":"EURJPY,H4"},{"tab":"GBPJPY,Daily"},{"tab":"CADJPY,Daily"},{"tab":"EURCAD,H4"},{"tab":"USDCHF,H4"},{"tab":"GBPCAD,H4"},{"tab":"AUDCAD,Daily"},{"tab":"XAGUSD,H4"},{"tab":"XAUUSD,Daily"},{"tab":"US30,H4"}
]
},
"vconcat":[
{
"width":1915,"height":6,
"view":{"fill":"#F0F0F0","stroke":null},
"data":{"values":[{"a":1}]},
"mark":{"type":"rect","color":"#F0F0F0"},
"encoding":{}
},
{
"width":1865,"height":624,
"layer":[
{"data":{"values":[{"from":13.75,"to":424,"lo":78.48,"hi":79.21}]},
 "mark":{"type":"rect","color":"#00FF00"},
 "encoding":{
  "x":{"field":"from","type":"quantitative","scale":{"domain":[-0.5,465.75],"nice":false,"zero":false},"axis":null},
  "x2":{"field":"to"},
  "y":{"field":"lo","type":"quantitative","scale":{"domain":[67.585,80.227],"nice":false,"zero":false},
       "axis":{"orient":"right","values":[68,69,70,71,72,73,74,75,76,77,78,79,80],"format":".2f","tickSize":4,"labelPadding":3}},
  "y2":{"field":"hi"}}},
{"data":{"name":"tags"},"transform":[{"filter":"datum.k == 'level'"}],
 "mark":{"type":"rule","color":"#0000A8","strokeWidth":2},
 "encoding":{"y":{"field":"p","type":"quantitative"}}},
{"data":{"name":"tags"},"transform":[{"filter":"datum.k == 'bid'"}],
 "mark":{"type":"rule","color":"#C0C0C0","strokeWidth":1},
 "encoding":{"y":{"field":"p","type":"quantitative"}}},
{"data":{"name":"chan"},
 "mark":{"type":"rule","color":"#000000","strokeWidth":1,"strokeDash":[16,8],"clip":true},
 "encoding":{"x":{"field":"a","type":"quantitative"},"x2":{"field":"b"},"y":{"field":"pa","type":"quantitative"},"y2":{"field":"pb"}}},
{"data":{"name":"bars"},
 "mark":{"type":"rule","strokeWidth":1},
 "encoding":{"x":{"field":"i","type":"quantitative"},"y":{"field":"l","type":"quantitative"},"y2":{"field":"h"},
  "color":{"condition":{"test":"datum.c >= datum.o","value":"#2AA7E0"},"value":"#D3161C"}}},
{"data":{"name":"bars"},
 "mark":{"type":"bar","width":3},
 "encoding":{"x":{"field":"i","type":"quantitative"},"y":{"field":"o","type":"quantitative"},"y2":{"field":"c"},
  "color":{"condition":{"test":"datum.c >= datum.o","value":"#2AA7E0"},"value":"#D3161C"}}},
{"data":{"name":"ma"},
 "mark":{"type":"line","color":"#0A10C8","strokeWidth":4.5,"interpolate":"monotone"},
 "encoding":{"x":{"field":"i","type":"quantitative"},"y":{"field":"v","type":"quantitative"}}},
{"data":{"name":"tags"},
 "mark":{"type":"rule","strokeWidth":13,"strokeCap":"butt","clip":false},
 "encoding":{"x":{"datum":466.25},"x2":{"datum":476.75},"y":{"field":"p","type":"quantitative"},
  "color":{"field":"k","type":"nominal","scale":{"domain":["level","bid"],"range":["#1414D2","#000000"]},"legend":null}}},
{"data":{"name":"tags"},
 "mark":{"type":"text","align":"left","baseline":"middle","color":"#FFFFFF","fontSize":12,"font":"Liberation Sans","clip":false},
 "encoding":{"x":{"datum":467.5},"y":{"field":"p","type":"quantitative"},"text":{"field":"t"}}},
{"data":{"values":[{"t":"▼ OILUSD,H4  77.73 77.87 77.71 77.86"}]},
 "mark":{"type":"text","align":"left","baseline":"middle","color":"#000000","fontSize":12.2,"font":"Liberation Sans, DejaVu Sans"},
 "encoding":{"x":{"datum":0.5},"y":{"datum":80.03},"text":{"field":"t"}}}
]
},
{
"width":1865,"height":225,
"layer":[
{"data":{"name":"bars"},
 "mark":{"type":"bar","width":3,"color":"#000000"},
 "encoding":{
  "x":{"field":"i","type":"quantitative","scale":{"domain":[-0.5,465.75],"nice":false,"zero":false},
   "axis":{"orient":"bottom","values":[0,24,48,72,96,120,144,168,192,216,240,264,288,312,336,360,384],
    "labelExpr":"['16 Nov 2023','22 Nov 09:00','28 Nov 13:00','4 Dec 13:00','8 Dec 13:00','14 Dec 13:00','20 Dec 13:00','27 Dec 17:00','4 Jan 01:00','10 Jan 01:00','16 Jan 01:00','22 Jan 01:00','26 Jan 01:00','1 Feb 01:00','7 Feb 01:00','13 Feb 01:00','19 Feb 01:00'][round(datum.value/24)]",
    "labelAlign":"left","labelBaseline":"top","tickSize":4,"labelPadding":2,"labelFontSize":12.5}},
  "y":{"field":"m","type":"quantitative","scale":{"domain":[-1.66,1.234],"nice":false,"zero":false},
   "axis":{"orient":"right","values":[1.131,0,-1.557],"labelExpr":"datum.value == 0 ? '0.00' : format(datum.value, '.3f')","tickSize":4,"labelPadding":3}},
  "y2":{"datum":0}}},
{"data":{"name":"sig"},
 "mark":{"type":"line","color":"#B0302C","strokeWidth":1,"interpolate":"monotone"},
 "encoding":{"x":{"field":"i","type":"quantitative"},"y":{"field":"v","type":"quantitative"}}},
{"data":{"values":[{"t":"MACD(12,26,9) 0.391 0.352"}]},
 "mark":{"type":"text","align":"left","baseline":"middle","color":"#000000","fontSize":12.1},
 "encoding":{"x":{"datum":0.5},"y":{"datum":1.11},"text":{"field":"t"}}},
{"data":{"values":[{"t":"Activate Windows","x":387.5,"y":-1.13,"s":"big"},{"t":"Go to Settings to activate Windows.","x":387,"y":-1.5,"s":"small"}]},
 "mark":{"type":"text","align":"left","baseline":"middle","color":"#C4C4C4","font":"Noto Sans"},
 "encoding":{"x":{"field":"x","type":"quantitative"},"y":{"field":"y","type":"quantitative"},"text":{"field":"t"},
  "size":{"field":"s","type":"nominal","scale":{"domain":["big","small"],"range":[23,17]},"legend":null}}}
]
},
{
"width":1915,"height":9,
"view":{"fill":"#F0F0F0","stroke":null},
"data":{"name":"tabs"},
"layer":[
{"mark":{"type":"rect","stroke":"#6E6E6E","strokeWidth":1},
 "encoding":{"x":{"field":"tab","type":"nominal","sort":null,"axis":null,"scale":{"paddingInner":0,"paddingOuter":0}},
  "color":{"condition":{"test":"datum.tab == 'OILUSD,H4'","value":"#FFFFFF"},"value":"#F0F0F0"}}},
{"mark":{"type":"text","baseline":"middle","fontSize":7.5,"color":"#000000"},
 "encoding":{"x":{"field":"tab","type":"nominal","sort":null,"axis":null},"text":{"field":"tab"}}}
]
}
]
}
